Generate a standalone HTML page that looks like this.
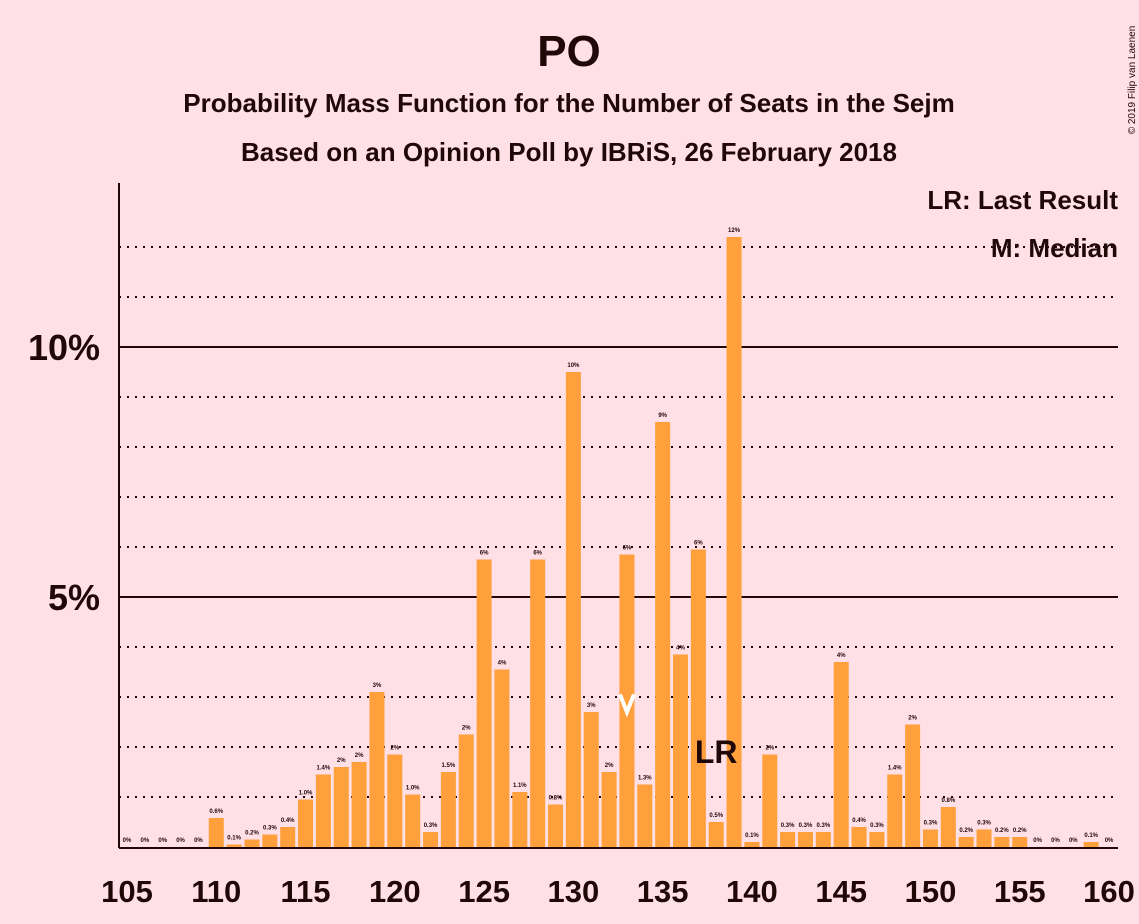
<!DOCTYPE html>
<html><head><meta charset="utf-8"><style>
body{margin:0;background:#FFE0E6;}
svg{display:block;font-family:"Liberation Sans",sans-serif;}
</style></head><body>
<svg id="chart" width="1139" height="924">
<rect width="1139" height="924" fill="#FFE0E6"/>
<text x="569" y="66" text-anchor="middle" font-size="44" font-weight="bold" fill="#200808">PO</text>
<text x="569" y="112" text-anchor="middle" font-size="26" font-weight="bold" fill="#200808">Probability Mass Function for the Number of Seats in the Sejm</text>
<text x="569" y="161" text-anchor="middle" font-size="26" font-weight="bold" fill="#200808">Based on an Opinion Poll by IBRiS, 26 February 2018</text>
<text transform="translate(1135,80) rotate(-90)" text-anchor="middle" font-size="10" fill="#200808">© 2019 Filip van Laenen</text>
<g id="grid"></g>
<g id="bars"></g>
<g id="axes"></g>
<text x="1118" y="209" text-anchor="end" font-size="26" font-weight="bold" fill="#200808">LR: Last Result</text>
<text x="1118" y="257" text-anchor="end" font-size="26" font-weight="bold" fill="#200808">M: Median</text>
</svg>
<script>
const seats=[105,106,107,108,109,110,111,112,113,114,115,116,117,118,119,120,121,122,123,124,125,126,127,128,129,130,131,132,133,134,135,136,137,138,139,140,141,142,143,144,145,146,147,148,149,150,151,152,153,154,155,156,157,158,159,160];
const values=[0,0,0,0,0,0.58,0.05,0.15,0.25,0.4,0.95,1.45,1.6,1.7,3.1,1.85,1.05,0.3,1.5,2.25,5.75,3.55,1.1,5.75,0.85,9.5,2.7,1.5,5.85,1.25,8.5,3.85,5.95,0.5,12.2,0.1,1.85,0.3,0.3,0.3,3.7,0.4,0.3,1.45,2.45,0.35,0.8,0.2,0.35,0.2,0.2,0,0,0,0.1,0];
const labels=["0%","0%","0%","0%","0%","0.6%","0.1%","0.2%","0.3%","0.4%","1.0%","1.4%","2%","2%","3%","2%","1.0%","0.3%","1.5%","2%","6%","4%","1.1%","6%","0.8%","10%","3%","2%","6%","1.3%","9%","4%","6%","0.5%","12%","0.1%","2%","0.3%","0.3%","0.3%","4%","0.4%","0.3%","1.4%","2%","0.3%","0.8%","0.2%","0.3%","0.2%","0.2%","0%","0%","0%","0.1%","0%"];
const xTicks=[105,110,115,120,125,130,135,140,145,150,155,160];
const yTicks=[5,10];
const medianSeat=133, lastResultSeat=138;
const NS="http://www.w3.org/2000/svg";
const x=s=>127+(s-105)*17.855;
const y=v=>847-v*50;
function mk(tag,attrs,parent,text){const e=document.createElementNS(NS,tag);for(const k in attrs)e.setAttribute(k,attrs[k]);if(text!==undefined)e.textContent=text;parent.appendChild(e);return e;}
const grid=document.getElementById('grid'),bars=document.getElementById('bars'),axes=document.getElementById('axes');
for(let p=1;p<=12;p++){
  const solid=p%5===0;
  const l=mk('line',{x1:119,x2:1118,y1:y(p),y2:y(p),stroke:'#200808','stroke-width':2,'stroke-dasharray':solid?'none':'2,6'},grid);
  
  
}
seats.forEach((s,i)=>{
  const v=values[i];
  const r=mk('rect',{x:x(s)-7.5,y:y(v),width:15,height:v*50,fill:'#FFA03C'},bars);
  
  
  const t=mk('text',{x:x(s),y:y(v)-5,'text-anchor':'middle','font-size':6,'font-weight':'bold',fill:'#200808'},bars,labels[i]);
  
  
});
const mx=x(medianSeat);
const m=mk('polyline',{points:`${mx-7},${y(3.05)} ${mx},${y(2.7)} ${mx+7},${y(3.05)}`,fill:'none',stroke:'#FFFFFF','stroke-width':4},bars);


const lr=mk('text',{x:x(lastResultSeat),y:763,'text-anchor':'middle','font-size':32,'font-weight':'bold',fill:'#200808'},bars,'LR');


const ax=mk('line',{x1:119,x2:119,y1:183,y2:848,stroke:'#200808','stroke-width':2},axes);


const bx=mk('line',{x1:119,x2:1118,y1:848,y2:848,stroke:'#200808','stroke-width':2},axes);


xTicks.forEach(s=>{
  const t=mk('text',{x:x(s),y:902,'text-anchor':'middle','font-size':31,'font-weight':'bold',fill:'#200808'},axes,String(s));
  
  
});
yTicks.forEach(p=>{
  const t=mk('text',{x:100,y:y(p)+13,'text-anchor':'end','font-size':36,'font-weight':'bold',fill:'#200808'},axes,p+'%');
  
  
});
</script>
</body></html>
